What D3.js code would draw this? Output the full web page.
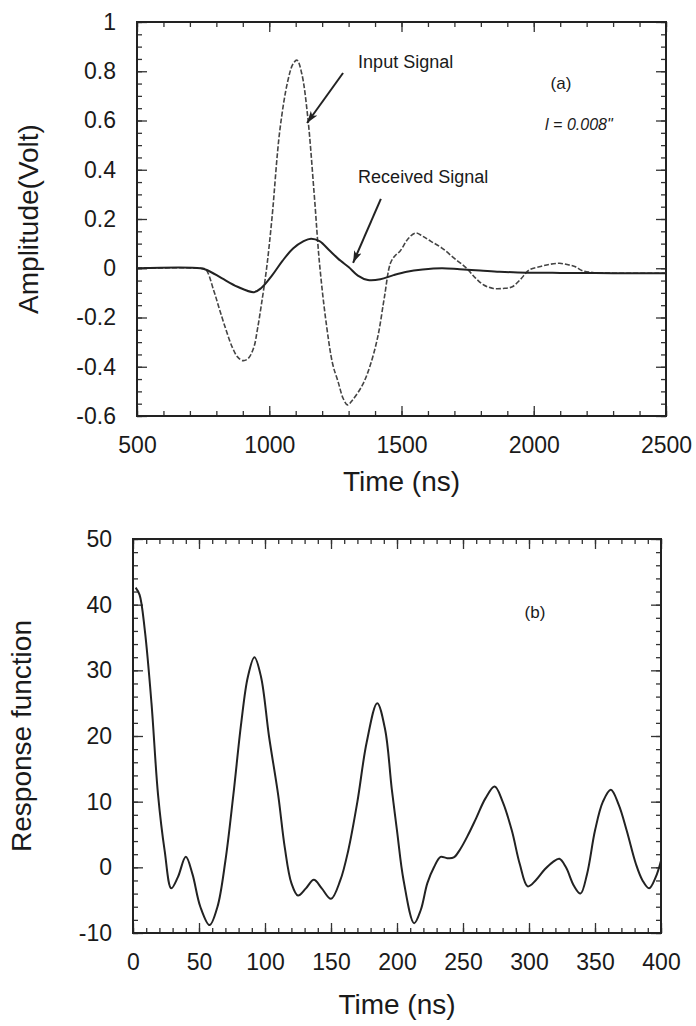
<!DOCTYPE html>
<html>
<head>
<meta charset="utf-8">
<script src="https://cdn.jsdelivr.net/npm/d3@7"></script>
<style>
  body { margin: 0; background: #fff; }
  text { font-family: "Liberation Sans", Arial, sans-serif; fill: #1a1a1a; }
</style>
</head>
<body>
<div class="chart"></div>
<script>
// ---- data ----
// (a) input and received signals, time in ns, amplitude in volt
var inputTime = [500, 740, 760, 790, 810, 835, 860, 880, 900, 920, 942, 955, 970, 990, 1010, 1040, 1070, 1090, 1105, 1123,
  1145, 1170, 1190, 1215, 1240, 1260, 1280, 1296, 1315, 1352, 1380, 1410, 1435, 1458, 1475, 1495, 1525, 1553, 1580, 1610,
  1653, 1700, 1746, 1780, 1811, 1847, 1885, 1919, 1950, 1983, 2026, 2060, 2098, 2130, 2155, 2184, 2228, 2300, 2500];
var inputVolt = [0, 0, -0.005, -0.09, -0.16, -0.245, -0.32, -0.36, -0.375, -0.367, -0.32, -0.25, -0.15, 0, 0.2, 0.56, 0.76, 0.83, 0.845, 0.79,
  0.62, 0.3, 0.02, -0.22, -0.39, -0.46, -0.53, -0.555, -0.535, -0.475, -0.4, -0.28, -0.12, 0.02, 0.05, 0.07, 0.12, 0.143, 0.13, 0.11,
  0.082, 0.04, 0, -0.04, -0.068, -0.082, -0.082, -0.075, -0.045, -0.007, 0.007, 0.016, 0.02, 0.014, 0.007, -0.01, -0.018, -0.02, -0.02];

var receivedTime = [500, 740, 770, 820, 880, 942, 970, 1010, 1050, 1090, 1130, 1158, 1190, 1230, 1270, 1300, 1335, 1373, 1420,
  1470, 1520, 1580, 1653, 1720, 1797, 1870, 1940, 2100, 2300, 2500];
var receivedVolt = [0, 0, -0.01, -0.04, -0.075, -0.097, -0.08, -0.03, 0.03, 0.08, 0.11, 0.12, 0.11, 0.07, 0.03, 0.005, -0.03, -0.048, -0.045,
  -0.028, -0.014, -0.005, 0, -0.004, -0.009, -0.014, -0.017, -0.019, -0.02, -0.02];

// (b) response function
var respTime = [2, 5, 9, 14, 19, 24, 29, 34, 40, 45, 51, 58, 64, 70, 76, 82, 87, 92, 97, 103, 110, 115, 120, 125, 131, 137, 143,
  150, 157, 163, 170, 177, 185, 191, 196, 200, 205, 213, 218, 223, 228, 233, 238, 243, 248, 254, 260, 267, 274, 280, 287, 293,
  299, 305, 312, 318, 323, 328, 334, 339, 344, 350, 356, 362, 368, 374, 381, 386, 391, 396, 400];
var respValue = [42.6, 41.5, 36, 25, 11, 2.5, -3.2, -1.5, 1.6, -1, -6, -8.8, -6, 1, 11, 22, 29, 32, 29, 20, 11, 3, -2.4, -4.3, -3.2, -1.9, -3.2,
  -4.8, -2, 2.5, 10, 19, 25, 21, 12, 5.6, -2, -8.5, -6.5, -2.4, 0, 1.6, 1.4, 1.5, 2.8, 5, 7.5, 10.5, 12.3, 10, 5.6, 0.5,
  -2.9, -2, -0.3, 0.8, 1.3, 0, -2.8, -4, -1, 5.6, 10, 11.8, 9.5, 5.6, 0.5, -2, -3.2, -1.5, 1];

// tick values
var xTicksA = [500, 1000, 1500, 2000, 2500];
var yTicksA = [-0.6, -0.4, -0.2, 0, 0.2, 0.4, 0.6, 0.8, 1];
var yLabelsA = ["-0.6", "-0.4", "-0.2", "0", "0.2", "0.4", "0.6", "0.8", "1"];
var xTicksB = [0, 50, 100, 150, 200, 250, 300, 350, 400];
var yTicksB = [-10, 0, 10, 20, 30, 40, 50];

//Define physical space
var svgWidth = 696;
var svgHeight = 1026;

var svg = d3.select(".chart").append("svg")
  .attr("width", svgWidth)
  .attr("height", svgHeight);

var defs = svg.append("defs");
defs.append("marker")
  .attr("id", "arrow")
  .attr("viewBox", "0 0 12 8")
  .attr("refX", 12)
  .attr("refY", 4)
  .attr("markerWidth", 12)
  .attr("markerHeight", 8)
  .attr("markerUnits", "userSpaceOnUse")
  .attr("orient", "auto")
  .append("path")
  .attr("d", "M0,0 L12,4 L0,8 L3,4 Z")
  .attr("fill", "#222");

// draw a boxed panel with inward ticks on all four sides
function drawFrame(x, y, xMajor, xMinor, yMajor, yMinor, xFmt, yFmt) {
  var g = svg.append("g");
  var x0 = x.range()[0], x1 = x.range()[1];
  var y0 = y.range()[0], y1 = y.range()[1];

  // bottom
  g.append("g").attr("transform", `translate(0, ${y0})`)
    .call(d3.axisBottom(x).tickValues(xMinor).tickSize(-5).tickSizeOuter(0).tickFormat(""));
  g.append("g").attr("class", "xlab").attr("transform", `translate(0, ${y0})`)
    .call(d3.axisBottom(x).tickValues(xMajor).tickSize(-10).tickSizeOuter(0).tickPadding(21).tickFormat(xFmt));
  // top
  g.append("g").attr("transform", `translate(0, ${y1})`)
    .call(d3.axisTop(x).tickValues(xMinor).tickSize(-5).tickSizeOuter(0).tickFormat(""));
  g.append("g").attr("transform", `translate(0, ${y1})`)
    .call(d3.axisTop(x).tickValues(xMajor).tickSize(-10).tickSizeOuter(0).tickFormat(""));
  // left
  g.append("g").attr("transform", `translate(${x0}, 0)`)
    .call(d3.axisLeft(y).tickValues(yMinor).tickSize(-5).tickSizeOuter(0).tickFormat(""));
  g.append("g").attr("class", "ylab").attr("transform", `translate(${x0}, 0)`)
    .call(d3.axisLeft(y).tickValues(yMajor).tickSize(-10).tickSizeOuter(0).tickPadding(21).tickFormat(yFmt));
  // right
  g.append("g").attr("transform", `translate(${x1}, 0)`)
    .call(d3.axisRight(y).tickValues(yMinor).tickSize(-5).tickSizeOuter(0).tickFormat(""));
  g.append("g").attr("transform", `translate(${x1}, 0)`)
    .call(d3.axisRight(y).tickValues(yMajor).tickSize(-10).tickSizeOuter(0).tickFormat(""));

  g.selectAll(".domain").remove();
  g.selectAll(".tick line").attr("stroke", "#333").attr("stroke-width", 1.3);
  g.selectAll("text")
    .style("font-family", "'Liberation Sans', Arial, sans-serif")
    .style("font-size", "23px")
    .attr("fill", "#1a1a1a");

  g.append("rect")
    .attr("x", x0).attr("y", y1)
    .attr("width", x1 - x0).attr("height", y0 - y1)
    .attr("fill", "none")
    .attr("stroke", "#222")
    .attr("stroke-width", 2);
  return g;
}

// ================= panel (a) =================
var xA = d3.scaleLinear().domain([500, 2500]).range([137, 666]);
var yA = d3.scaleLinear().domain([-0.6, 1]).range([416, 22]);

drawFrame(xA, yA, xTicksA, d3.range(500, 2501, 100), yTicksA, d3.range(-0.6, 1.001, 0.05).map(d => +d.toFixed(2)),
  d => d, (d, i) => yLabelsA[i]);

var lineA = d3.line()
  .x(d => xA(d[0]))
  .y(d => yA(d[1]))
  .curve(d3.curveCatmullRom.alpha(0.5));

svg.append("path")
  .datum(d3.zip(inputTime, inputVolt))
  .attr("d", lineA)
  .attr("fill", "none")
  .attr("stroke", "#444")
  .attr("stroke-width", 1.6)
  .attr("stroke-dasharray", "5,2");

svg.append("path")
  .datum(d3.zip(receivedTime, receivedVolt))
  .attr("d", lineA)
  .attr("fill", "none")
  .attr("stroke", "#222")
  .attr("stroke-width", 2);

// annotations
svg.append("text")
  .attr("x", xA(1336)).attr("y", yA(0.813))
  .style("font-size", "18px")
  .text("Input Signal");

svg.append("line")
  .attr("x1", xA(1279)).attr("y1", yA(0.793))
  .attr("x2", xA(1143)).attr("y2", yA(0.59))
  .attr("stroke", "#222").attr("stroke-width", 2)
  .attr("marker-end", "url(#arrow)");

svg.append("text")
  .attr("x", xA(1336)).attr("y", yA(0.346))
  .style("font-size", "18px")
  .text("Received Signal");

svg.append("line")
  .attr("x1", xA(1422)).attr("y1", yA(0.282))
  .attr("x2", xA(1317)).attr("y2", yA(0.022))
  .attr("stroke", "#222").attr("stroke-width", 2)
  .attr("marker-end", "url(#arrow)");

svg.append("text")
  .attr("x", xA(2103)).attr("y", yA(0.728))
  .attr("text-anchor", "middle")
  .style("font-size", "17px")
  .text("(a)");

svg.append("text")
  .attr("x", xA(2043)).attr("y", yA(0.561))
  .style("font-size", "16px")
  .style("font-style", "italic")
  .text("l = 0.008\"");

// axis titles
svg.append("text")
  .attr("transform", `translate(38, ${(yA.range()[0] + yA.range()[1]) / 2}) rotate(-90)`)
  .attr("text-anchor", "middle")
  .style("font-size", "28px")
  .text("Amplitude(Volt)");

svg.append("text")
  .attr("x", (xA.range()[0] + xA.range()[1]) / 2)
  .attr("y", 491)
  .attr("text-anchor", "middle")
  .style("font-size", "28px")
  .text("Time (ns)");

// ================= panel (b) =================
var xB = d3.scaleLinear().domain([0, 400]).range([133, 661]);
var yB = d3.scaleLinear().domain([-10, 50]).range([933, 539]);

drawFrame(xB, yB, xTicksB, d3.range(0, 401, 10), yTicksB, d3.range(-10, 51, 2), d => d, d => d);

var lineB = d3.line()
  .x(d => xB(d[0]))
  .y(d => yB(d[1]))
  .curve(d3.curveCatmullRom.alpha(0.5));

svg.append("path")
  .datum(d3.zip(respTime, respValue))
  .attr("d", lineB)
  .attr("fill", "none")
  .attr("stroke", "#222")
  .attr("stroke-width", 2);

svg.append("text")
  .attr("x", xB(304.5)).attr("y", yB(38))
  .attr("text-anchor", "middle")
  .style("font-size", "17px")
  .text("(b)");

svg.append("text")
  .attr("transform", `translate(31, ${(yB.range()[0] + yB.range()[1]) / 2}) rotate(-90)`)
  .attr("text-anchor", "middle")
  .style("font-size", "28px")
  .text("Response function");

svg.append("text")
  .attr("x", (xB.range()[0] + xB.range()[1]) / 2)
  .attr("y", 1014)
  .attr("text-anchor", "middle")
  .style("font-size", "28px")
  .text("Time (ns)");
</script>
</body>
</html>
